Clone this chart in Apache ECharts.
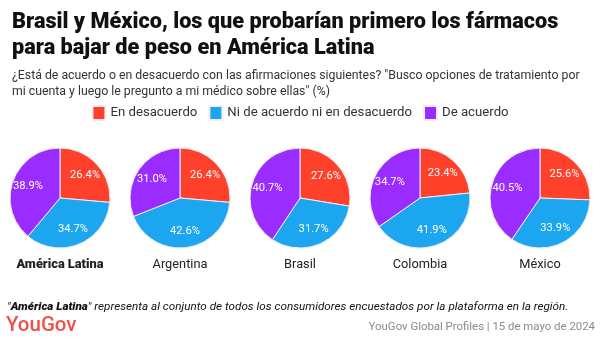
<!DOCTYPE html>
<html><head><meta charset="utf-8">
<script src="https://cdn.jsdelivr.net/npm/echarts@6/dist/echarts.min.js"></script>
<style>html,body{margin:0;padding:0;background:#fff}#c{width:600px;height:340px}</style>
</head><body><div id="c"></div>
<script>
const regions = ['América Latina', 'Argentina', 'Brasil', 'Colombia', 'México'];
const seriesNames = ['En desacuerdo', 'Ni de acuerdo ni en desacuerdo', 'De acuerdo'];
const enDesacuerdo = [26.4, 26.4, 27.6, 23.4, 25.6];
const niNi = [34.7, 42.6, 31.7, 41.9, 33.9];
const deAcuerdo = [38.9, 31.0, 40.7, 34.7, 40.5];
const colors = ['#ff412c', '#1ca6ef', '#9a2cff'];

const FONT = 'Roboto, sans-serif';
const centersX = [60, 180, 300, 420, 540];
const cy = 198, R = 50;

const series = [];
regions.forEach((reg, i) => {
  const data = seriesNames.map((n, k) => ({
    name: n,
    value: [enDesacuerdo, niNi, deAcuerdo][k][i],
    itemStyle: { color: colors[k] }
  }));
  series.push({
    type: 'pie', center: [centersX[i], cy], radius: [0, R],
    startAngle: 90, clockwise: true, silent: true,
    itemStyle: { borderColor: '#f4eef4', borderWidth: 1 },
    label: { show: false }, labelLine: { show: false },
    data: data
  });
  series.push({
    type: 'pie', center: [centersX[i], cy], radius: [12, R],
    startAngle: 90, clockwise: true, silent: true, legendHoverLink: false,
    itemStyle: { color: 'transparent', borderWidth: 0 },
    label: {
      show: true, position: 'inside', color: '#fff', fontFamily: FONT, fontSize: 11.2,
      formatter: p => p.value.toFixed(1) + '%'
    },
    labelLine: { show: false },
    data: data.map(d => ({ name: d.name, value: d.value, itemStyle: { color: 'transparent' } }))
  });
});

const chart = echarts.init(document.getElementById('c'), null, { renderer: 'canvas' });
chart.setOption({
  backgroundColor: '#fff',
  animation: false,
  color: colors,
  legend: {
    data: seriesNames, top: 100, left: 'center',
    itemWidth: 13, itemHeight: 14, itemGap: 11, icon: 'rect',
    textStyle: { fontFamily: FONT, fontSize: 13.2, color: '#333', padding: [0, 0, 0, 0] }
  },
  title: [
    { text: 'Brasil y México, los que probarían primero los fármacos\npara bajar de peso en América Latina',
      left: 7, top: 5,
      textStyle: { fontFamily: FONT, fontSize: 21.7, fontWeight: 900, color: '#111', lineHeight: 26 } },
    { text: '¿Está de acuerdo o en desacuerdo con las afirmaciones siguientes? "Busco opciones de tratamiento por\nmi cuenta y luego le pregunto a mi médico sobre ellas" (%)',
      left: 7, top: 63,
      textStyle: { fontFamily: FONT, fontSize: 12.3, fontWeight: 400, color: '#333', lineHeight: 16 } }
  ],
  graphic: [
    ...regions.map((r, i) => ({
      type: 'text', x: centersX[i], y: 265,
      style: { text: r, fontFamily: FONT, fontSize: 12.8, fontWeight: i === 0 ? 900 : 400,
        fill: '#222', textAlign: 'center', textVerticalAlign: 'middle' }
    })),
    { type: 'text', x: 7, y: 307,
      style: { rich: { b: { fontWeight: 900, fontStyle: 'italic', fontFamily: FONT, fontSize: 11.7, fill: '#111' },
                       n: { fontStyle: 'italic', fontFamily: FONT, fontSize: 11.7, fill: '#111' } },
        text: '{n|"}{b|América Latina}{n|" representa al conjunto de todos los consumidores encuestados por la plataforma en la región.}',
        textVerticalAlign: 'middle' } },
    { type: 'text', x: 6, y: 326,
      style: { text: 'YouGov', fontFamily: FONT, fontSize: 20.5, fontWeight: 500, fill: '#f0504a',
        textVerticalAlign: 'middle' } },
    { type: 'text', x: 595, y: 327,
      style: { text: 'YouGov Global Profiles | 15 de mayo de 2024', fontFamily: FONT, fontSize: 11.4,
        fill: '#8a8a8a', textAlign: 'right', textVerticalAlign: 'middle' } }
  ],
  series: series
});
</script></body></html>
